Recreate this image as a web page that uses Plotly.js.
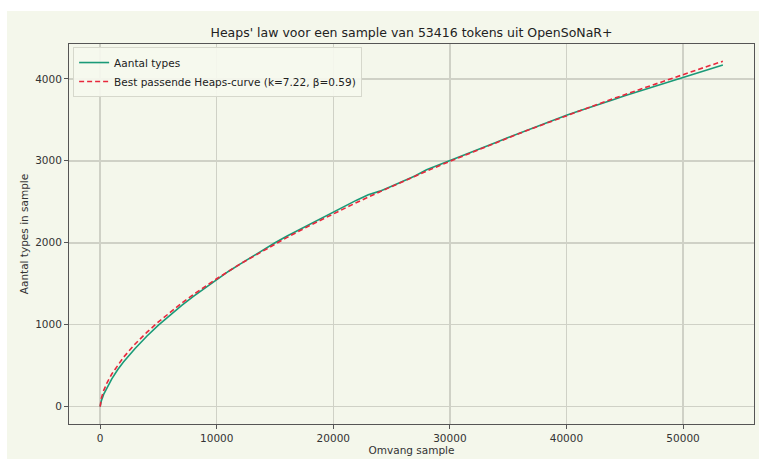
<!DOCTYPE html>
<html>
<head>
<meta charset="utf-8">
<script src="https://cdn.plot.ly/plotly-3.0.1.min.js"></script>
<style>
html,body{margin:0;padding:0;background:#ffffff;}
#chart{position:absolute;left:7px;top:11px;width:752px;height:448px;}
</style>
</head>
<body>
<div id="chart"></div>
<script>
const sampleSize = [0,100,300,600,1000,1500,2000,3000,4000,5000,6000,7000,8000,9000,10000,11000,12000,13000,14000,15000,16000,17000,18000,19000,20000,21000,22000,23000,24000,25000,26000,27000,28000,29000,30000,31000,32000,33000,34000,35000,36000,37000,38000,39000,40000,41000,42000,43000,44000,45000,46000,47000,48000,49000,50000,51000,52000,53000,53416];
const typeCount = [0,70,150,240,340,450,545,710,860,995,1120,1235,1345,1450,1555,1650,1740,1830,1915,2000,2080,2155,2230,2300,2380,2445,2520,2585,2630,2690,2755,2815,2890,2945,3005,3058,3118,3170,3225,3285,3340,3395,3445,3500,3555,3605,3650,3700,3745,3795,3840,3885,3930,3975,4020,4065,4110,4150,4168];

// Fitted Heaps curve
const fitSize = [0,100,300,600,1000,1500,2000,3000,4000,5000,6000,7000,8000,9000,10000,12000,14000,16000,18000,20000,22000,24000,26000,28000,30000,32000,34000,36000,38000,40000,42000,44000,46000,48000,50000,52000,53416];
const fitCount = [0,102,196,295,399,507,602,765,907,1035,1154,1264,1368,1467,1561,1740,1906,2063,2212,2354,2491,2623,2751,2874,2994,3111,3224,3336,3444,3550,3654,3757,3857,3956,4052,4148,4214];

const xTicks = [0,10000,20000,30000,40000,50000];
const yTicks = [0,1000,2000,3000,4000];

const bg = '#f4f7eb';
const axisCommon = {
  showgrid: true, gridcolor: '#cfd1c6', gridwidth: 1.5,
  zeroline: false, showline: true, linecolor: '#555555', linewidth: 1, mirror: true,
  ticks: 'outside', ticklen: 4, tickcolor: '#555555', tickwidth: 1,
  tickfont: {family: 'DejaVu Sans', size: 10.5, color: '#333333'}
};

const data = [
  {x: sampleSize, y: typeCount, type: 'scatter', mode: 'lines', name: 'Aantal types',
   line: {color: '#1a9a78', width: 1.6}},
  {x: fitSize, y: fitCount, type: 'scatter', mode: 'lines', name: 'Best passende Heaps-curve (k=7.22, β=0.59)',
   line: {color: '#e8283c', width: 1.6, dash: '5px,3px'}}
];

const layout = {
  width: 752, height: 448,
  paper_bgcolor: bg, plot_bgcolor: bg,
  margin: {l: 62, r: 5, t: 33, b: 35},
  title: {text: "Heaps' law voor een sample van 53416 tokens uit OpenSoNaR+",
    font: {family: 'DejaVu Sans', size: 12.5, color: '#222222'},
    x: 0.5, xref: 'paper', y: 0.048, yref: 'container', yanchor: 'middle'},
  xaxis: Object.assign({}, axisCommon, {
    range: [-2671, 56087], tickvals: xTicks, ticktext: xTicks.map(String),
    title: {text: 'Omvang sample', font: {family: 'DejaVu Sans', size: 10.5, color: '#333333'}, standoff: 2}
  }),
  yaxis: Object.assign({}, axisCommon, {
    range: [-211, 4425], tickvals: yTicks, ticktext: yTicks.map(String),
    title: {text: 'Aantal types in sample', font: {family: 'DejaVu Sans', size: 10.5, color: '#333333'}, standoff: 4}
  }),
  showlegend: true,
  legend: {x: 0.006, y: 0.992, xanchor: 'left', yanchor: 'top',
    bgcolor: 'rgba(246,248,238,0.9)', bordercolor: '#d6d8cc', borderwidth: 1,
    font: {family: 'DejaVu Sans', size: 10.5, color: '#222222'},
    itemwidth: 30, tracegroupgap: 0}
};
layout.title.y = 0.952;

Plotly.newPlot('chart', data, layout, {displayModeBar: false, staticPlot: true});
</script>
</body>
</html>
